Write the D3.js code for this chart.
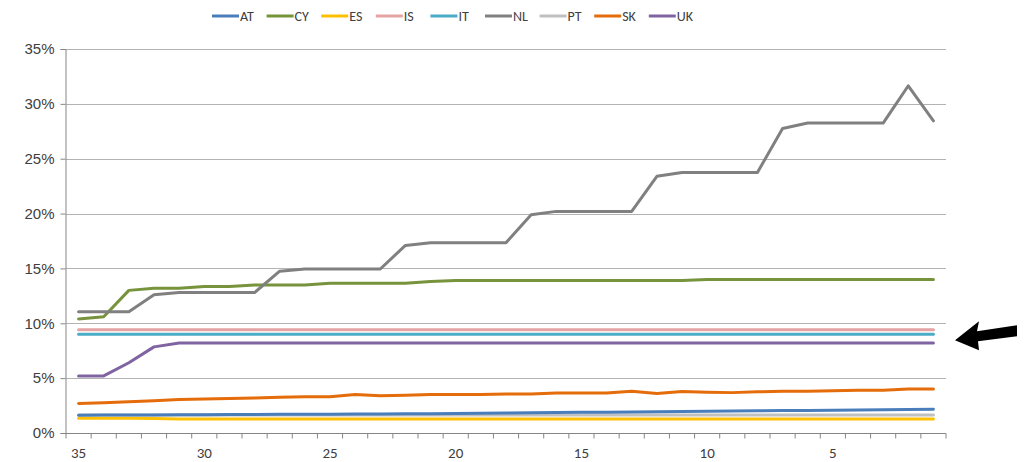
<!DOCTYPE html>
<html><head><meta charset="utf-8">
<script src="https://cdn.jsdelivr.net/npm/d3@7"></script>
<style>body{margin:0;background:#fff}svg{display:block;font-family:Carlito,Calibri,"Liberation Sans","DejaVu Sans",sans-serif}</style>
</head><body><svg id="c" width="1035" height="462"></svg>
<script>
const categories = d3.range(35, 0, -1);
const xTickLabels = [35, 30, 25, 20, 15, 10, 5];
const yTicks = [0, 0.05, 0.10, 0.15, 0.20, 0.25, 0.30, 0.35];
const seriesNames = ["AT","CY","ES","IS","IT","NL","PT","SK","UK"];
const seriesColors = ["#4A7EBB","#77933C","#FFC000","#E6A3A3","#4BACC6","#808080","#C0C0C0","#E46C0A","#8064A2"];

const AT = [1.62,1.63,1.64,1.65,1.66,1.67,1.68,1.69,1.70,1.71,1.72,1.73,1.74,1.75,1.76,1.78,1.80,1.82,1.84,1.86,1.88,1.90,1.92,1.94,1.96,1.98,2.00,2.02,2.04,2.06,2.08,2.10,2.12,2.14,2.16];
const CY = [10.4,10.6,13.0,13.2,13.2,13.35,13.35,13.5,13.5,13.5,13.65,13.65,13.65,13.65,13.8,13.9,13.9,13.9,13.9,13.9,13.9,13.9,13.9,13.9,13.9,14.0,14.0,14.0,14.0,14.0,14.0,14.0,14.0,14.0,14.0];
const ES = [1.34,1.34,1.34,1.33,1.28,1.27,1.27,1.27,1.27,1.27,1.27,1.27,1.27,1.27,1.27,1.27,1.27,1.27,1.27,1.27,1.27,1.27,1.27,1.27,1.27,1.27,1.27,1.27,1.27,1.27,1.27,1.27,1.27,1.27,1.27];
const IS = [9.4,9.4,9.4,9.4,9.4,9.4,9.4,9.4,9.4,9.4,9.4,9.4,9.4,9.4,9.4,9.4,9.4,9.4,9.4,9.4,9.4,9.4,9.4,9.4,9.4,9.4,9.4,9.4,9.4,9.4,9.4,9.4,9.4,9.4,9.4];
const IT = [9.0,9.0,9.0,9.0,9.0,9.0,9.0,9.0,9.0,9.0,9.0,9.0,9.0,9.0,9.0,9.0,9.0,9.0,9.0,9.0,9.0,9.0,9.0,9.0,9.0,9.0,9.0,9.0,9.0,9.0,9.0,9.0,9.0,9.0,9.0];
const NL = [11.05,11.05,11.05,12.6,12.8,12.8,12.8,12.8,14.75,14.95,14.95,14.95,14.95,17.1,17.35,17.35,17.35,17.35,19.9,20.2,20.2,20.2,20.2,23.4,23.75,23.75,23.75,23.75,27.75,28.25,28.25,28.25,28.25,31.65,28.45];
const PT = [1.64,1.64,1.64,1.64,1.64,1.64,1.64,1.64,1.64,1.64,1.64,1.64,1.64,1.64,1.64,1.64,1.64,1.64,1.64,1.64,1.64,1.64,1.64,1.64,1.64,1.64,1.64,1.64,1.64,1.64,1.64,1.64,1.64,1.64,1.64];
const SK = [2.7,2.75,2.85,2.95,3.05,3.1,3.15,3.2,3.25,3.3,3.3,3.5,3.4,3.45,3.5,3.5,3.5,3.55,3.55,3.65,3.65,3.65,3.8,3.6,3.78,3.72,3.68,3.75,3.8,3.8,3.85,3.9,3.9,4.0,4.0];
const UK = [5.2,5.2,6.4,7.85,8.2,8.2,8.2,8.2,8.2,8.2,8.2,8.2,8.2,8.2,8.2,8.2,8.2,8.2,8.2,8.2,8.2,8.2,8.2,8.2,8.2,8.2,8.2,8.2,8.2,8.2,8.2,8.2,8.2,8.2,8.2];
const seriesValues = [AT,CY,ES,IS,IT,NL,PT,SK,UK];

const svg = d3.select("#c");
const m = {left:66, right:946, top:49, bottom:433};
const x = d3.scaleBand().domain(categories).range([m.left, m.right]);
const y = d3.scaleLinear().domain([0, 0.35]).range([m.bottom, m.top]);

// gridlines
svg.append("g").selectAll("line").data(yTicks.slice(1)).join("line")
  .attr("x1", m.left).attr("x2", m.right)
  .attr("y1", d => Math.round(y(d))+0.5).attr("y2", d => Math.round(y(d))+0.5)
  .attr("stroke", "#B3B3B3").attr("stroke-width", 1.2);

// y axis
const yAxis = svg.append("g").attr("transform", `translate(${m.left-0.5},0)`)
  .call(d3.axisLeft(y).tickValues(yTicks).tickFormat(d3.format(".0%")).tickSize(5).tickPadding(6));
yAxis.select(".domain").attr("stroke", "#868686");
yAxis.selectAll(".tick line").attr("stroke", "#868686");
yAxis.selectAll("text").attr("fill", "#404040").style("font-size", "15px");

// x axis
const xg = svg.append("g").attr("transform", `translate(0,${m.bottom+0.5})`);
xg.append("line").attr("x1", m.left-5).attr("x2", m.right).attr("stroke", "#868686");
const bounds = categories.map(c => x(c)).concat([x(categories[categories.length-1]) + x.bandwidth()]);
xg.selectAll("line.t").data(bounds).join("line").attr("class","t")
  .attr("x1", d => d).attr("x2", d => d).attr("y1", 0).attr("y2", 5).attr("stroke", "#868686");
xg.selectAll("text").data(xTickLabels).join("text")
  .attr("x", d => x(d) + x.bandwidth()/2).attr("y", 24)
  .attr("text-anchor", "middle").attr("fill", "#404040").style("font-size", "15px")
  .text(d => d);

// lines
const line = d3.line().x((d,i) => x(categories[i]) + x.bandwidth()/2).y(d => y(d/100));
const drawOrder = [6,2,0,7,8,4,3,1,5];
drawOrder.forEach(k => {
  svg.append("path").datum(seriesValues[k])
    .attr("d", line).attr("fill", "none")
    .attr("stroke", seriesColors[k]).attr("stroke-width", 3)
    .attr("stroke-linejoin", "round").attr("stroke-linecap", "round");
});

// legend
const lg = svg.append("g");
const legX0 = 212, legStep = 54.6, legY = 16;
seriesNames.forEach((n, i) => {
  const gx = legX0 + i*legStep;
  lg.append("line").attr("x1", gx).attr("x2", gx+27).attr("y1", legY).attr("y2", legY)
    .attr("stroke", seriesColors[i]).attr("stroke-width", 3);
  lg.append("text").attr("x", gx+28).attr("y", legY+5).attr("fill", "#404040")
    .style("font-size", "14px").text(n);
});

// arrow annotation
const ay = y(0.09);
const ax = m.right + 9;
svg.append("path")
  .attr("d", `M${ax},${ay+6} L${ax+24},${ay-13} L${ax+22},${ay-3} L${ax+62},${ay-9} L${ax+62},${ay+2} L${ax+23},${ay+7} L${ax+24},${ay+16} Z`)
  .attr("fill", "#000");
</script></body></html>
